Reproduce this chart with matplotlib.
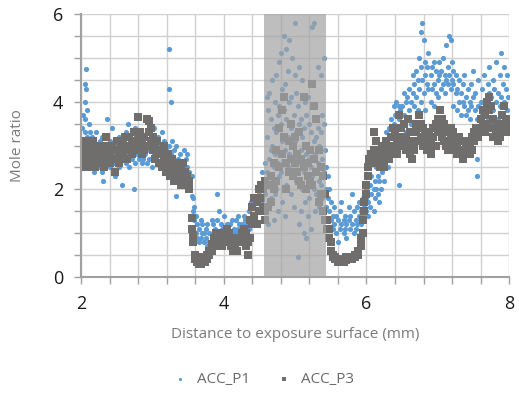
"""Mole ratio vs distance to exposure surface, ACC_P1 / ACC_P3 scatter"""
import numpy as np
import matplotlib
matplotlib.use('Agg')
import matplotlib.pyplot as plt
from matplotlib.ticker import MultipleLocator, FuncFormatter

plt.rcParams['font.family'] = ['Open Sans', 'DejaVu Sans']

# ACC_P1: x positions (mm) and the mole ratios read at each position
p1_x = [2.02, 2.03, 2.05, 2.06, 2.07, 2.09, 2.11, 2.13, 2.16, 2.18, 2.21, 2.24, 2.26, 2.29, 2.31,
        2.34, 2.37, 2.40, 2.43, 2.46, 2.48, 2.51, 2.54, 2.57, 2.60, 2.63, 2.66, 2.68, 2.71, 2.74,
        2.76, 2.79, 2.82, 2.85, 2.87, 2.90, 2.93, 2.96, 2.99, 3.02, 3.05, 3.08, 3.10, 3.13, 3.16,
        3.19, 3.22, 3.24, 3.26, 3.28, 3.31, 3.33, 3.36, 3.39, 3.41, 3.44, 3.47, 3.49, 3.52, 3.55,
        3.57, 3.59, 3.61, 3.63, 3.66, 3.68, 3.70, 3.72, 3.75, 3.77, 3.80, 3.83, 3.85, 3.88, 3.91,
        3.93, 3.96, 3.98, 4.01, 4.04, 4.06, 4.09, 4.12, 4.14, 4.17, 4.20, 4.22, 4.25, 4.28, 4.30,
        4.33, 4.36, 4.38, 4.41, 4.44, 4.46, 4.49, 4.52, 4.54,
        4.58, 4.60, 4.62, 4.64, 4.66, 4.68, 4.70, 4.72, 4.74, 4.76, 4.78, 4.80, 4.82, 4.84, 4.86,
        4.88, 4.90, 4.92, 4.94, 4.96, 4.98, 5.00, 5.02, 5.04, 5.06, 5.08, 5.10, 5.12, 5.14, 5.16,
        5.18, 5.20, 5.22, 5.24, 5.26, 5.28, 5.30, 5.32, 5.34, 5.36, 5.38, 5.40, 5.42,
        5.44, 5.46, 5.48, 5.50, 5.53, 5.55, 5.58, 5.60, 5.63, 5.65, 5.68, 5.70, 5.72, 5.75, 5.77,
        5.80, 5.82, 5.85, 5.87, 5.90, 5.92, 5.95, 5.97, 6.00, 6.02, 6.05, 6.07, 6.10, 6.12, 6.14,
        6.16, 6.18, 6.20, 6.22, 6.24, 6.26, 6.28, 6.30, 6.32, 6.34, 6.36, 6.38, 6.40, 6.42, 6.45,
        6.47, 6.50, 6.52, 6.55, 6.57, 6.60, 6.62, 6.65, 6.67, 6.70, 6.72, 6.74, 6.76, 6.78, 6.80,
        6.82, 6.85, 6.87, 6.90, 6.92, 6.95, 6.97, 7.00, 7.02, 7.05, 7.07, 7.10, 7.12, 7.14, 7.16,
        7.18, 7.20, 7.22, 7.25, 7.27, 7.30, 7.32, 7.35, 7.37, 7.40, 7.42, 7.45, 7.47, 7.50, 7.52,
        7.55, 7.57, 7.60, 7.62, 7.65, 7.67, 7.70, 7.72, 7.74, 7.77, 7.79, 7.82, 7.84, 7.87, 7.89,
        7.91, 7.93, 7.95, 7.97, 7.99]
p1_y = [[3.4, 2.9], [3.7, 3.1], [4.0, 3.3, 2.7], [4.4, 3.6], [4.75, 4.3, 3.0], [3.8, 3.2, 2.6],
        [3.5, 2.9], [3.3, 2.8, 2.5], [3.2, 2.9], [3.0, 2.6, 2.4], [3.3, 2.7], [2.9, 2.5], [3.1, 2.6],
        [2.8, 2.4, 3.2], [2.9, 2.2], [3.0, 2.6], [3.6, 2.7], [2.8, 2.5, 3.1], [3.4, 2.9], [2.6, 3.0],
        [2.3, 2.8], [3.1, 2.7], [3.2, 2.5], [2.9, 2.1], [2.7, 3.0], [3.3, 2.6], [3.5, 2.8], [2.5, 3.0],
        [3.1, 2.7], [2.9, 2.0], [3.4, 2.6], [2.8, 3.0], [2.7, 3.1], [2.9, 2.6], [3.2, 2.7], [2.8, 3.0],
        [2.6, 3.3], [2.9, 2.7], [3.1, 2.5], [2.8, 3.4], [2.7, 3.0], [3.2, 2.6], [2.9, 3.0],
        [2.8, 2.5, 3.3], [2.6, 3.1], [2.9, 2.4], [2.7, 2.3], [5.2, 4.3, 3.0], [4.0, 2.8, 2.6],
        [3.1, 2.7], [2.9, 2.5], [2.6, 1.85, 3.0], [2.7, 2.3], [2.8, 2.4], [2.5, 2.2], [2.6, 2.9],
        [2.3, 2.7], [2.5, 2.8], [2.4, 2.1], [1.85, 2.3], [1.5, 1.8], [1.3, 1.6], [1.0, 1.4],
        [0.9, 1.2], [1.1, 0.8], [1.3, 0.9], [1.0, 1.2], [0.8, 1.0], [1.1, 0.9], [0.7, 1.2],
        [1.0, 0.8], [1.3, 0.9], [1.0, 1.2], [0.9, 1.1], [1.9, 1.3, 1.0], [1.5, 0.8], [1.2, 1.0],
        [0.9, 1.1], [1.4, 0.8], [1.0, 1.2], [0.8, 1.1], [1.2, 0.9], [1.0, 1.3], [0.9, 1.1],
        [1.3, 1.0], [1.1, 1.4], [0.9, 1.2], [1.2, 1.0], [1.4, 1.1], [1.0, 1.3], [1.2, 0.9],
        [1.5, 1.1], [1.3, 1.7], [1.6, 1.2], [1.4, 1.8], [1.7, 2.0], [1.5, 1.9], [2.1, 1.7], [2.4, 1.8],
        [2.6, 1.9], [4.1, 3.2, 2.4], [3.8, 2.1, 1.2], [4.2, 2.7, 1.6], [3.6, 2.9, 1.8], [4.5, 3.0, 2.2],
        [3.4, 2.5, 1.3], [4.0, 2.8, 1.9], [4.6, 3.3, 2.0], [3.7, 2.6, 1.5], [4.9, 3.9, 2.3],
        [5.1, 3.5, 2.4], [4.3, 3.1, 1.7], [5.5, 3.8, 2.6], [4.4, 2.9, 1.4], [5.2, 3.6, 2.1],
        [4.7, 3.2, 2.5], [5.4, 4.0, 2.8], [4.1, 3.4, 1.9], [5.0, 3.0, 2.3], [3.7, 2.7, 1.6],
        [5.8, 4.6, 3.1], [4.2, 3.3, 2.2], [3.9, 2.6, 0.45], [4.8, 3.5, 1.2], [3.6, 2.9, 1.5],
        [4.5, 3.2, 2.0], [3.4, 2.4, 1.0], [4.0, 3.0, 1.7], [3.7, 2.8, 0.9], [4.1, 2.2, 1.4],
        [3.5, 2.7, 1.8], [3.3, 2.5, 1.1], [5.7, 3.9, 2.3], [5.8, 3.1, 2.0], [3.6, 2.8, 1.5],
        [3.2, 2.4, 1.9], [4.8, 3.4, 2.6], [3.0, 2.2, 1.6], [4.6, 3.3, 2.1], [3.7, 2.7, 1.8],
        [5.0, 3.5, 2.4], [2.9, 2.5, 1.9],
        [2.5, 2.0, 1.6], [2.3, 1.8, 1.3], [2.0, 1.5], [1.7, 1.3], [1.4, 1.1], [1.2, 1.6], [1.0, 1.4],
        [1.3, 0.8], [1.1, 1.5], [1.7, 1.2], [1.0, 1.3], [1.4, 1.1], [0.9, 1.2], [1.3, 1.6], [1.1, 1.4],
        [1.9, 1.2], [1.0, 1.5], [1.3, 1.1], [1.6, 1.2], [1.4, 1.7], [1.2, 1.5], [1.8, 1.4], [1.6, 1.3],
        [2.0, 1.5, 1.8], [1.7, 1.4], [2.1, 1.6], [1.9, 2.3], [1.5, 2.0], [2.2, 1.8], [2.5, 2.0],
        [1.9, 2.3], [2.2, 1.7], [2.6, 2.0], [2.4, 2.9], [2.8, 2.2], [3.1, 2.6], [2.7, 3.3], [3.0, 2.5],
        [3.4, 2.9], [3.2, 3.6], [2.8, 3.4], [3.5, 3.9], [3.1, 3.7], [3.3, 4.0], [3.6, 3.9, 2.1],
        [3.2, 3.8], [3.9, 3.4], [3.7, 4.2], [3.3, 4.0], [4.1, 3.6], [4.3, 3.8], [3.5, 4.0], [4.2, 4.6],
        [3.9, 4.4], [4.7, 4.1], [4.5, 3.8], [5.0, 4.3], [5.6, 4.8, 4.0], [5.8, 4.5], [5.4, 4.2],
        [4.9, 4.6, 3.8], [4.4, 4.8], [5.1, 4.3], [4.6, 4.0], [4.8, 4.3], [4.4, 4.9, 3.9], [4.7, 4.2],
        [4.5, 4.1], [4.9, 4.6], [4.3, 4.7], [5.0, 4.4], [4.6, 4.2], [5.3, 4.5], [4.8, 4.4], [5.5, 4.6],
        [5.4, 4.3], [4.9, 4.5], [4.4, 4.7, 3.9], [4.6, 4.2], [4.3, 3.8], [4.5, 4.0], [4.2, 3.7],
        [4.4, 4.0], [4.6, 3.9], [4.1, 3.7], [4.3, 3.8], [4.0, 3.6], [4.4, 3.9], [4.7, 4.1], [4.2, 3.8],
        [2.7, 2.3, 3.6], [4.5, 3.9], [4.0, 3.5], [4.3, 3.7], [4.6, 4.0], [3.9, 3.4], [4.4, 3.6],
        [4.8, 4.2], [4.1, 3.5], [4.5, 3.8], [4.3, 3.3], [4.9, 4.0], [4.2, 3.6], [4.6, 3.9], [5.1, 4.1],
        [4.4, 3.7], [4.8, 4.0], [4.3, 3.5], [4.6, 3.8], [4.1, 3.6]]

# ACC_P3
p3_x = [2.01, 2.03, 2.05, 2.07, 2.09, 2.12, 2.14, 2.17, 2.20, 2.23, 2.26, 2.29, 2.32, 2.35, 2.38,
        2.41, 2.44, 2.47, 2.50, 2.53, 2.56, 2.59, 2.62, 2.65, 2.68, 2.71, 2.74, 2.77, 2.80, 2.83,
        2.86, 2.89, 2.92, 2.95, 2.98, 3.01, 3.04, 3.07, 3.10, 3.13, 3.16, 3.19, 3.22, 3.25, 3.28,
        3.31, 3.34, 3.37, 3.40, 3.43, 3.46, 3.49, 3.52, 3.55, 3.57, 3.60, 3.62, 3.65, 3.68, 3.71,
        3.74, 3.77, 3.80, 3.83, 3.86, 3.89, 3.92, 3.95, 3.98, 4.01, 4.04, 4.07, 4.10, 4.13, 4.16,
        4.19, 4.22, 4.25, 4.28, 4.31, 4.34, 4.37, 4.40, 4.43, 4.46, 4.49, 4.52, 4.55,
        4.58, 4.62, 4.66, 4.70, 4.74, 4.78, 4.82, 4.85, 4.88, 4.91, 4.94, 4.97, 5.00, 5.03, 5.06,
        5.09, 5.12, 5.15, 5.18, 5.21, 5.24, 5.27, 5.30, 5.33, 5.36, 5.39, 5.42,
        5.45, 5.48, 5.50, 5.53, 5.56, 5.60, 5.64, 5.68, 5.72, 5.76, 5.80, 5.84, 5.88, 5.92, 5.95,
        5.97, 6.00, 6.02, 6.04, 6.07, 6.10, 6.13, 6.16, 6.19, 6.22, 6.25, 6.28, 6.31, 6.34, 6.37,
        6.40, 6.43, 6.46, 6.49, 6.52, 6.55, 6.58, 6.61, 6.64, 6.67, 6.70, 6.73, 6.76, 6.79, 6.82,
        6.85, 6.88, 6.91, 6.94, 6.97, 7.00, 7.03, 7.06, 7.09, 7.12, 7.15, 7.18, 7.21, 7.24, 7.27,
        7.30, 7.33, 7.36, 7.39, 7.42, 7.45, 7.48, 7.51, 7.54, 7.57, 7.60, 7.63, 7.66, 7.69, 7.72,
        7.75, 7.78, 7.81, 7.84, 7.87, 7.90, 7.93, 7.96, 7.99]
p3_y = [[2.8, 2.6], [2.9, 3.0], [2.7, 2.5], [3.1, 2.6], [2.8, 2.5], [3.0, 2.7], [2.6, 2.9], [2.8, 3.1],
        [2.7, 2.5], [2.9, 3.0], [2.6, 2.8], [2.7, 3.0], [2.9, 2.5], [3.2, 2.8], [2.7, 3.0], [2.8, 2.6],
        [3.0, 2.9], [2.7, 2.4], [2.9, 3.1], [2.8, 2.6], [3.0, 2.7], [3.1, 2.8], [2.9, 3.2], [3.0, 2.7],
        [3.2, 2.9], [2.8, 3.1], [3.3, 3.0], [3.1, 2.9], [3.65, 3.2], [3.0, 3.3], [3.1, 2.8], [3.2, 2.9],
        [3.6, 3.0], [3.55, 3.3], [3.4, 3.1], [3.2, 2.9], [3.0, 2.7], [3.1, 2.8], [2.9, 2.6], [2.8, 2.5],
        [3.0, 2.7], [2.7, 2.4], [2.6, 2.8], [2.5, 2.3], [2.7, 2.4], [2.5, 2.2], [2.6, 2.3], [2.4, 2.2],
        [2.5, 2.1], [2.3, 2.6], [2.2, 2.4], [2.1, 2.3], [2.2, 2.0], [1.35, 1.1], [0.95, 0.8],
        [0.5, 0.4], [0.35, 0.45], [0.3, 0.4], [0.35, 0.3], [0.4, 0.35], [0.45, 0.35], [0.5, 0.4],
        [0.6, 0.5], [0.75, 0.6], [0.9, 0.7], [1.0, 0.8], [0.9, 0.7], [0.8, 1.0], [0.7, 0.9], [0.8, 1.0],
        [0.9, 1.1], [1.0, 0.8], [0.9, 0.7], [0.8, 0.6], [0.7, 0.9], [0.6, 0.8], [0.8, 0.9], [1.0, 0.8],
        [1.1, 0.9], [1.0, 0.7], [0.8, 0.5], [1.3, 0.9], [1.6, 1.2], [1.8, 1.4], [1.7, 1.2], [2.0, 1.5],
        [2.1, 1.8], [2.0, 1.6],
        [2.2, 1.5, 1.3], [2.1, 1.6], [2.3, 1.7], [2.6, 2.0], [2.9, 2.2], [3.4, 2.5], [3.8, 2.8],
        [4.1, 3.2], [2.6, 2.0], [3.1, 2.4], [3.5, 2.7], [3.0, 2.3], [3.2, 2.6], [2.8, 2.4], [3.3, 2.2],
        [2.7, 2.1], [4.1, 2.5], [3.0, 2.0], [2.6, 2.3], [2.9, 2.2], [4.4, 2.1], [3.9, 2.7], [3.6, 2.4],
        [2.9, 1.7], [2.5, 1.9], [2.3, 1.5], [1.9, 1.3],
        [1.3, 1.1], [1.1, 0.9], [0.8, 0.6], [0.5, 0.45], [0.45, 0.4], [0.4, 0.35], [0.35, 0.4],
        [0.4, 0.35], [0.45, 0.38], [0.4, 0.42], [0.45, 0.4], [0.5, 0.45], [0.6, 0.5], [0.9, 0.7],
        [1.3, 1.0], [1.7, 1.5], [2.1, 1.9], [2.5, 2.3], [2.7, 2.6], [2.8, 2.6], [3.3, 2.9], [3.1, 2.7],
        [2.8, 2.6], [2.9, 2.5], [3.0, 2.7], [2.8, 2.5], [2.9, 3.1], [2.7, 3.0], [3.2, 2.8], [3.0, 3.4],
        [3.3, 2.9], [3.1, 2.8], [3.7, 3.2], [3.4, 3.0], [3.5, 3.1], [3.2, 2.9], [3.6, 3.0], [3.3, 2.8],
        [3.1, 2.7], [3.0, 2.9], [3.3, 3.5], [3.7, 3.1], [3.5, 3.2], [3.4, 3.0], [3.1, 3.3], [2.9, 3.2],
        [3.0, 3.3], [2.8, 3.1], [3.2, 3.4], [3.5, 3.0], [3.3, 3.6], [3.8, 3.4], [3.6, 3.2], [3.5, 3.1],
        [3.3, 3.0], [3.1, 2.9], [3.4, 3.2], [3.3, 3.0], [3.1, 2.9], [3.0, 2.8], [3.2, 2.9], [3.1, 2.8],
        [2.9, 2.7], [3.0, 2.8], [2.9, 3.1], [3.0, 2.8], [3.2, 2.9], [3.1, 3.3], [3.3, 3.4], [3.4, 3.2],
        [3.6, 3.3], [3.5, 3.8], [3.7, 3.3], [4.0, 3.5], [4.1, 3.8], [3.9, 3.4], [3.6, 3.2], [3.3, 3.5],
        [3.4, 3.1], [3.5, 3.2], [3.7, 3.3], [3.9, 3.4], [3.6, 3.3], [3.5, 3.4]]

# shaded band (mm)
band = (4.57, 5.43)


def expand(xs, ys):
    ox, oy = [], []
    for x, vals in zip(xs, ys):
        for v in vals:
            ox.append(x); oy.append(v)
    return np.array(ox), np.array(oy)


x1, y1 = expand(p1_x, p1_y)
x3, y3 = expand(p3_x, p3_y)

fig = plt.figure(figsize=(5.19, 4.0), dpi=100)
ax = fig.add_axes([0.156, 0.3075, 0.825, 0.6575])

ax.scatter(x1, y1, s=14, marker='o', color='#5b9bd5', linewidths=0, zorder=3, label='ACC_P1')
ax.scatter(x3, y3, s=28, marker='s', color='#706d6d', linewidths=0, zorder=4, label='ACC_P3')
ax.axvspan(band[0], band[1], color='#a3a3a3', alpha=0.7, linewidth=0, zorder=5)

ax.set_xlim(2, 8); ax.set_ylim(0, 6)
ax.xaxis.set_major_locator(MultipleLocator(0.4))
ax.yaxis.set_major_locator(MultipleLocator(0.5))
ax.xaxis.set_major_formatter(FuncFormatter(
    lambda v, p: f'{v:.0f}' if abs(v - round(v)) < 1e-6 and round(v) % 2 == 0 else ''))
ax.yaxis.set_major_formatter(FuncFormatter(
    lambda v, p: f'{v:.0f}' if abs(v - round(v)) < 1e-6 and round(v) % 2 == 0 else ''))
ax.grid(True, color='#d0d0d0', linewidth=1.0, zorder=6)
ax.set_axisbelow(False)
for s in ['top', 'right']:
    ax.spines[s].set_visible(False)
for s in ['left', 'bottom']:
    ax.spines[s].set_color('#a0a0a0'); ax.spines[s].set_linewidth(1.5)
    ax.spines[s].set_zorder(7)
ax.tick_params(length=5, width=1, color='#a0a0a0', labelsize=13, labelcolor='#1a1a1a', pad=8)

ax.set_xlabel('Distance to exposure surface (mm)', fontsize=11, color='#7a7a7a', labelpad=10)
ax.set_ylabel('Mole ratio', fontsize=11, color='#7a7a7a')
ax.yaxis.set_label_coords(-0.13, 0.5)

leg = fig.legend(loc='center', bbox_to_anchor=(0.5, 0.052), ncol=2, frameon=False,
                 fontsize=11, markerscale=0.6, handletextpad=0.1, columnspacing=1.2)
for t in leg.get_texts():
    t.set_color('#6a6a6a')

fig.savefig('out.png', dpi=100)
